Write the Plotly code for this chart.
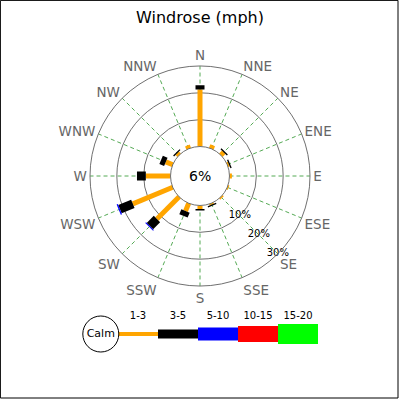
import plotly.graph_objects as go

directions = ['N', 'NNE', 'NE', 'ENE', 'E', 'ESE', 'SE', 'SSE',
              'S', 'SSW', 'SW', 'WSW', 'W', 'WNW', 'NW', 'NNW']
speed_ranges = ['1-3', '3-5', '5-10', '10-15', '15-20']
calm_pct = 6

# percent of time per direction, one list per speed range (mph)
pct_1_3 = [21.2, 1.4, 1.5, 0.6, 0.9, 0.5, 0.6, 0.5, 1.3, 3.1, 11.7, 16.1, 9.2, 2.8, 1.0, 1.3]
pct_3_5 = [1.6, 0, 0.5, 0.5, 0, 0, 0, 0.5, 0.6, 2.0, 3.7, 5.2, 3.3, 1.9, 0.5, 0]
pct_5_10 = [0, 0, 0, 0, 0, 0, 0, 0, 0, 0, 0.4, 0.5, 0, 0, 0, 0]
pct_10_15 = [0] * 16
pct_15_20 = [0] * 16
ring_ticks = [10, 20, 30]

range_colors = ['#FFA500', '#000000', '#0000FF', '#FF0000', '#00FF00']
bar_widths = [5, 9, 11, 13, 15]
legend_widths = [4, 9, 13, 16, 20]

angles = [i * 22.5 for i in range(len(directions))]
series = [pct_1_3, pct_3_5, pct_5_10, pct_10_15, pct_15_20]

fig = go.Figure()

# stacked segments along each direction
base = [0] * len(directions)
for k, vals in enumerate(series):
    for i, v in enumerate(vals):
        if v > 0:
            fig.add_trace(go.Scatterpolar(
                r=[base[i], base[i] + v], theta=[angles[i], angles[i]],
                mode='lines', line=dict(color=range_colors[k], width=bar_widths[k]),
                hoverinfo='skip'))
        base[i] += v

# ring labels along SE
fig.add_trace(go.Scatterpolar(
    r=ring_ticks, theta=[135] * len(ring_ticks),
    text=[str(t) + '%' for t in ring_ticks], mode='text',
    textfont=dict(size=10, color='black', family='DejaVu Sans'),
    cliponaxis=False, hoverinfo='skip'))

# legend strip
for k, name in enumerate(speed_ranges):
    fig.add_trace(go.Scatter(
        x=[k, k + 1], y=[0, 0], mode='lines',
        line=dict(color=range_colors[k], width=legend_widths[k]),
        xaxis='x', yaxis='y', hoverinfo='skip'))
fig.add_trace(go.Scatter(
    x=[k + 0.5 for k in range(len(speed_ranges))], y=[0.6] * len(speed_ranges),
    text=speed_ranges, mode='text',
    textfont=dict(size=10, color='black', family='DejaVu Sans'),
    cliponaxis=False, hoverinfo='skip'))
fig.add_trace(go.Scatter(
    x=[-0.43], y=[0], mode='markers+text', text=['Calm'],
    textposition='middle center',
    textfont=dict(size=11, color='black', family='DejaVu Sans'),
    marker=dict(size=36, color='white', line=dict(color='black', width=1)),
    cliponaxis=False, hoverinfo='skip'))

fig.update_layout(
    width=400, height=400,
    margin=dict(l=0, r=0, t=0, b=0),
    paper_bgcolor='white', plot_bgcolor='white',
    showlegend=False,
    font=dict(family='DejaVu Sans'),
    title=dict(text='Windrose (mph)', x=0.5, y=0.9575, xanchor='center', yanchor='middle',
               font=dict(size=16, color='black')),
    polar=dict(
        domain=dict(x=[0.225, 0.775], y=[0.285, 0.835]),
        hole=0.268,
        bgcolor='white',
        radialaxis=dict(range=[0, 30], tickvals=[0] + ring_ticks, showticklabels=False,
                        ticks='', showline=False, gridcolor='#707070', gridwidth=1),
        angularaxis=dict(direction='clockwise', rotation=90,
                         tickmode='array', tickvals=angles, ticktext=directions,
                         ticks='', showline=True, linecolor='#707070', linewidth=1,
                         gridcolor='#55aa55', griddash='4px,3px', gridwidth=1,
                         tickfont=dict(size=13.5, color='#666666')),
    ),
    xaxis=dict(domain=[0.195, 0.795], range=[-1, 5], visible=False, fixedrange=True),
    yaxis=dict(domain=[0.09, 0.24], range=[-1, 1], visible=False, fixedrange=True),
    annotations=[dict(text=str(calm_pct) + '%', x=0.5, y=0.56, xref='paper', yref='paper',
                      showarrow=False, font=dict(size=14, color='black'))],
    shapes=[dict(type='rect', xref='paper', yref='paper', x0=0.001, y0=0.005, x1=0.995, y1=0.999,
                 line=dict(color='black', width=1))],
)

fig.write_html('out.html', config={'displayModeBar': False},
               post_script="document.body.style.margin='0';")
